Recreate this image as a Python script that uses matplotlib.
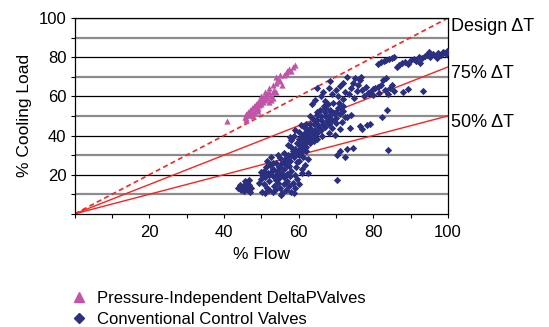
import matplotlib
matplotlib.use("Agg")
import matplotlib.pyplot as plt
from matplotlib.lines import Line2D

plt.rcParams['font.family'] = ['Liberation Sans', 'DejaVu Sans']

# pressure-independent valves (% flow, % cooling load)
pi_flow = [40.8, 45.5, 46, 46.5, 47, 47, 47.5, 48, 48, 48.5, 49, 49, 49.5, 50, 50,
           50.5, 50.5, 51, 51, 51.5, 51.5, 52, 52, 52.5, 53, 52, 53, 53.5, 54, 54.5,
           55, 55.5, 54, 55, 56, 56.5, 57, 57.5, 58, 58.5, 59, 46, 46.5, 47.5, 48.5,
           49.5, 50, 51, 52.5, 53, 54, 45.8, 47.8, 49.2]
pi_load = [47.5, 49.5, 51, 52, 50.5, 53, 54, 52, 55, 56, 54, 57, 55.5, 58, 56,
           59, 57, 60, 58, 61, 59, 62, 57, 60, 62, 64, 66, 63, 67, 69,
           68, 66, 70, 71, 71, 72, 73, 74, 73, 75, 76, 49, 50.5, 51.5, 53.5,
           57.5, 60, 62, 58, 59, 62, 48, 50, 52.5]

# conventional control valves
cc_flow = [
    # lower left blob
    43.8, 44.5, 45, 45.3, 45.8, 46.2, 46.6, 46.5, 47, 47.3, 44.2, 45.5, 46.8,
    # 49-53
    49.5, 50, 50.3, 50.6, 51, 51.2, 51.5, 51.8, 52, 52.3, 52.6, 50.8, 51.4, 50.2,
    51, 52, 49.8, 52.8, 53, 53.2,
    # bottom 53-60
    53, 53.5, 54, 54.5, 55, 55.5, 56, 56.5, 57, 57.5, 58, 58.5, 59, 59.5, 54.8,
    56.2, 57.8, 55.2, 53.8, 58.8, 60,
    # dense 54-62
    53.8, 54.3, 54.8, 55.2, 55.6, 56, 56.4, 56.8, 57.2, 57.6, 58, 58.4, 58.8, 59.2,
    59.6, 60, 60.4, 60.8, 61.2, 61.6, 62, 62.4, 55, 57, 59, 61, 60, 58, 56, 54.5,
    62.5, 61.5, 59.5, 57.5, 55.8,
    58, 59, 60, 61, 62, 63, 64, 65, 57, 56, 55, 54, 53, 52, 61, 62,
    # 57-62, 34-43
    57.2, 58, 58.8, 59.5, 60.2, 60.8, 61.5, 62, 62.4, 59, 57.8,
    # band along 75% line
    62.5, 63, 63.5, 64, 64.5, 65, 65.5, 66, 66.5, 67, 67.5, 68, 68.5, 69, 69.5,
    70, 70.5, 71, 71.5, 72, 72.5, 63, 64, 65, 66, 67, 68, 69, 70, 71, 63.8, 64.8,
    65.8, 66.8, 67.8, 69.2, 70.8, 62, 61.3, 60.5, 64.2, 66.3, 68.2, 69.8,
    60, 61, 62, 63, 64, 65, 66, 67, 68, 69, 70, 71, 72, 63, 65, 67,
    # upper middle
    63.5, 64.5, 65, 66, 66.5, 67, 68, 68.5, 69, 70, 70.5, 71, 71.8, 72.5, 72, 73,
    # 72-79
    73.5, 74, 74.5, 75, 75.5, 76, 76.5, 77, 77.5, 78, 78.5, 74.8, 76.8,
    # 78-86
    79, 79.8, 80.5, 81.2, 82, 82.5, 83.3, 83, 83.8, 84.5, 85, 85.5, 80, 81.5,
    # scattered
    88, 89.3, 93.3, 83.7, 82.3, 84, 74.6, 76.4, 78.3, 73.7, 73, 74, 70.3, 70.2,
    71, 72.3, 73, 77, 79,
    # top band
    81.3, 82, 82.8, 83.5, 84.2, 85, 85.6, 86.3, 87, 87.8, 88.5, 89.2, 90, 90.8,
    91.5, 92.2, 93, 93.8, 94.5, 95.2, 96, 96.7, 97.4, 98, 98.7, 99.4, 99.8, 92.5,
    95, 97,
]
cc_load = [
    13, 12, 14, 11.5, 13.5, 16, 17.5, 12, 11, 13, 14.5, 16.8, 14.8,
    16, 18, 20, 22, 19, 24, 27, 21, 17, 25, 29, 15, 13, 11,
    10.5, 12, 21.5, 22, 19.5, 26,
    11, 14, 12.5, 16, 13, 10.5, 15, 12, 17, 14, 11, 16, 13, 18, 18.5,
    19, 19.5, 9.5, 17.3, 10.5, 15,
    20, 22, 24, 21, 26, 23, 28, 25, 30, 27, 22, 32, 29, 24,
    31, 27, 33, 21, 29, 25, 32, 28, 28.5, 20.5, 20, 23, 35, 34, 31, 30,
    21, 34, 26.5, 24.5, 19.5,
    30, 33, 30, 32, 34, 36, 38, 38, 28, 26, 24, 26, 23, 20, 36, 38,
    35, 37.5, 40, 36, 42, 38.5, 41, 36.5, 43, 43, 39,
    40, 44, 41.5, 46, 43, 48, 44.5, 50, 46, 52, 47.5, 50, 53, 48, 51.5,
    49, 54, 51, 47, 52.5, 49.5, 38, 40, 41.5, 43, 44.5, 46, 44, 46.5, 43.5, 48.5, 50.5,
    53, 55, 56, 56.5, 56.5, 46, 44.5, 45.5, 37, 39.5, 41.5, 40.5,
    38, 40, 42, 46, 48, 46, 48, 50, 48, 52, 52, 54, 55, 50, 52, 54,
    56, 58, 64, 60, 62, 57.5, 64, 68, 61, 63, 60, 65.5, 58.5, 62, 67, 70,
    61, 64, 67, 69.5, 62.5, 66, 68.5, 63, 60, 65, 61.5, 59, 70,
    62, 63.5, 64.5, 65, 66, 68.5, 69.5, 63, 61, 64.5, 66, 62.5, 60.5, 61.5,
    62, 63.8, 62.5, 53, 49.5, 32.6, 33.7, 45, 45.4, 44, 49.5, 50.5, 17.3, 30,
    32, 29, 33, 43.5, 46,
    76.5, 77.5, 78, 78.5, 79, 79.5, 80, 75, 76, 77, 77.5, 76.5, 78.5, 79,
    78, 80, 79.5, 80.5, 81, 80, 81.5, 80.5, 82, 81, 82.5, 81.5, 83, 77,
    82.5, 79.5,
]

dt_lines = [1.0, 0.75, 0.5]
dt_labels = ['Design \u0394T', '75% \u0394T', '50% \u0394T']
dt_label_y = [95.5, 71.5, 46.5]

navy = '#2b2f80'
pink = '#c055a8'

fig = plt.figure(figsize=(5.49, 3.27), dpi=100)
ax = fig.add_axes([0.136, 0.346, 0.680, 0.599])

# grid: grey at odd tens, black at even tens
for g in range(10, 100, 20):
    ax.axhline(g, color='#8c8c8c', lw=1.6, zorder=1)
for g in range(20, 101, 20):
    ax.axhline(g, color='black', lw=0.9, zorder=1)

xs = [0, 100]
ax.plot(xs, [x * dt_lines[0] for x in xs], color='#ff2020', lw=1.2, ls=(0, (3, 2)), zorder=2)
ax.plot(xs, [x * dt_lines[1] for x in xs], color='#ff2020', lw=1.0, zorder=2)
ax.plot(xs, [x * dt_lines[2] for x in xs], color='#ff2020', lw=1.0, zorder=2)

ax.scatter(pi_flow, pi_load, marker='^', s=20, color=pink, linewidths=0, zorder=3)
ax.scatter(cc_flow, cc_load, marker='D', s=14, color=navy, linewidths=0, zorder=3)

for lab, yy in zip(dt_labels, dt_label_y):
    ax.text(100.8, yy, lab, va='center', ha='left', fontsize=13, clip_on=False)

ax.set_xlim(0, 100)
ax.set_ylim(0, 100)
ax.set_xticks(range(0, 101, 10))
ax.set_xticklabels(['' if t % 20 or t == 0 else str(t) for t in range(0, 101, 10)])
ax.set_yticks(range(0, 101, 10))
ax.set_yticklabels(['' if t % 20 or t == 0 else str(t) for t in range(0, 101, 10)])
ax.tick_params(direction='out', length=3, width=0.8, labelsize=12)
ax.tick_params(axis='x', pad=5)
ax.tick_params(axis='y', pad=3)
for s in ax.spines.values():
    s.set_linewidth(0.9)

ax.set_xlabel('% Flow', fontsize=12.5, labelpad=5)
ax.set_ylabel('% Cooling Load', fontsize=12.5, labelpad=5)

handles = [Line2D([], [], ls='', marker='^', ms=6.5, color=pink),
           Line2D([], [], ls='', marker='D', ms=5, color=navy)]
fig.legend(handles, ['Pressure-Independent DeltaPValves', 'Conventional Control Valves'],
           loc='upper left', bbox_to_anchor=(0.113, 0.135), frameon=False,
           fontsize=12, handlelength=1.0, handletextpad=0.6, labelspacing=0.35,
           borderpad=0)

fig.savefig('out.png', dpi=100)
